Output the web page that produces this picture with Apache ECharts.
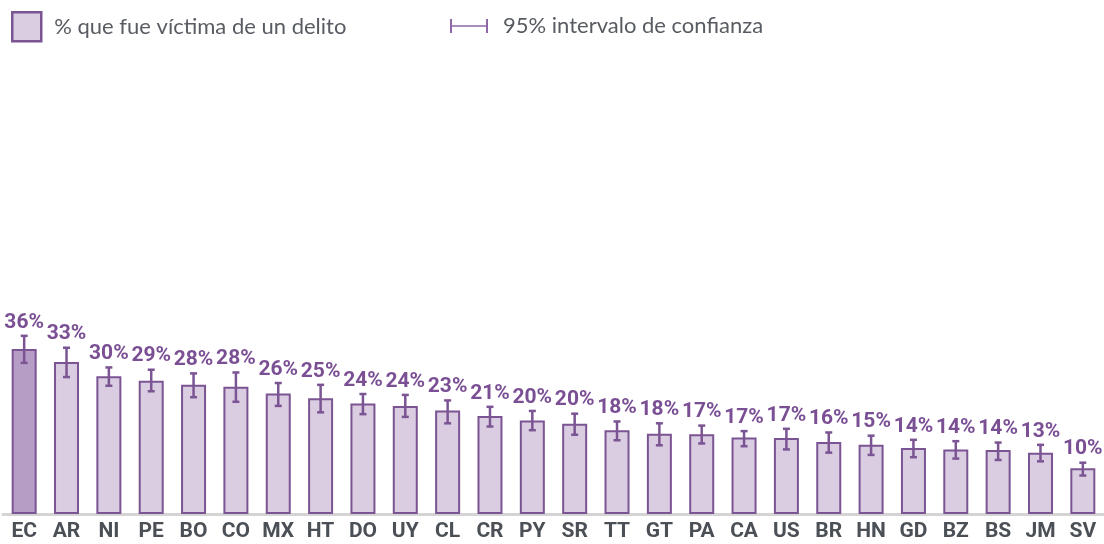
<!DOCTYPE html>
<html>
<head>
<meta charset="utf-8">
<script src="https://cdn.jsdelivr.net/npm/echarts@6/dist/echarts.min.js"></script>
<style>html,body{margin:0;padding:0;background:#fff}#c{width:1104px;height:544px}</style>
</head>
<body>
<div id="c"></div>
<script>
const categories = ['EC','AR','NI','PE','BO','CO','MX','HT','DO','UY','CL','CR','PY','SR','TT','GT','PA','CA','US','BR','HN','GD','BZ','BS','JM','SV'];
const values = [36.0,33.2,30.1,29.1,28.2,27.8,26.3,25.3,24.1,23.6,22.6,21.4,20.4,19.7,18.3,17.5,17.4,16.7,16.6,15.7,15.1,14.4,14.1,14.0,13.4,10.0];
const ciLow  = [33.0,29.9,28.0,26.8,25.5,24.5,23.6,22.2,21.8,21.2,19.8,19.1,18.3,17.3,16.1,15.0,15.4,14.8,14.1,13.4,12.9,12.4,12.1,11.8,11.5,8.4];
const ciHigh = [38.9,36.3,32.0,31.5,30.7,30.9,28.6,28.2,26.2,26.0,24.8,23.4,22.5,21.9,20.2,19.8,19.3,18.1,18.6,17.8,17.1,16.2,15.9,15.6,15.1,11.2];
const highlightIndex = 0;

const DARK = '#7b5493';
const LABEL = '#7a4f94';
const FILL = '#dacde1';
const FILL_HL = '#b59dc6';
const nameBar = '% que fue víctima de un delito';
const nameCI = '95% intervalo de confianza';

const chart = echarts.init(document.getElementById('c'));
chart.setOption({
  animation: false,
  legend: [
    {
      left: 11, top: 11, padding: 0, itemWidth: 29, itemHeight: 29,
      selectedMode: false,
      data: [{name: nameBar, icon: 'rect', itemStyle: {color: FILL, borderColor: DARK, borderWidth: 2.5}}],
      textStyle: {fontFamily: 'Lato', fontSize: 22, color: '#585c62', padding: [0,0,4,8]}
    },
    {
      left: 450, top: 15, padding: 0, itemWidth: 38, itemHeight: 14,
      selectedMode: false,
      data: [{name: nameCI, icon: 'path://M0,0h2v14h-2z M2,6.2h34v1.6h-34z M36,0h2v14h-2z', itemStyle: {color: '#9068a8', borderWidth: 0}}],
      textStyle: {fontFamily: 'Lato', fontSize: 22, color: '#585c62', padding: [0,0,0,10]}
    }
  ],
  grid: {left: 3, right: 0, top: 56, bottom: 30},
  xAxis: {
    type: 'category', data: categories,
    axisTick: {show: false},
    axisLine: {lineStyle: {color: '#d4d4d4', width: 3}},
    axisLabel: {interval: 0, margin: 7, color: '#4b5057', fontFamily: 'Roboto', fontWeight: 'bold', fontSize: 21}
  },
  yAxis: {type: 'value', min: 0, max: 100, show: false, splitLine: {show: false}},
  series: [
    {
      name: nameBar, type: 'bar', barWidth: 25,
      itemStyle: {color: FILL, borderColor: DARK, borderWidth: 2},
      data: values.map((v, i) => i === highlightIndex ? {value: v, itemStyle: {color: FILL_HL}} : v)
    },
    {
      name: nameCI, type: 'custom',
      data: categories.map((c, i) => [i, ciLow[i], ciHigh[i], values[i]]),
      renderItem: function (params, api) {
        const hi = api.coord([api.value(0), api.value(2)]);
        const lo = api.coord([api.value(0), api.value(1)]);
        const cx = hi[0];
        const cap = 3.5;
        const st = {stroke: DARK, lineWidth: 2.5};
        return {
          type: 'group',
          children: [
            {type: 'line', shape: {x1: cx, y1: hi[1], x2: cx, y2: lo[1]}, style: st},
            {type: 'line', shape: {x1: cx - cap, y1: hi[1], x2: cx + cap, y2: hi[1]}, style: st},
            {type: 'line', shape: {x1: cx - cap, y1: lo[1], x2: cx + cap, y2: lo[1]}, style: st},
            {type: 'text', x: cx, y: hi[1] - 3, style: {
              text: Math.round(api.value(3)) + '%', fill: LABEL,
              font: 'bold 21px Roboto', align: 'center', verticalAlign: 'bottom'
            }}
          ]
        };
      },
      z: 3
    }
  ]
});
</script>
</body>
</html>
